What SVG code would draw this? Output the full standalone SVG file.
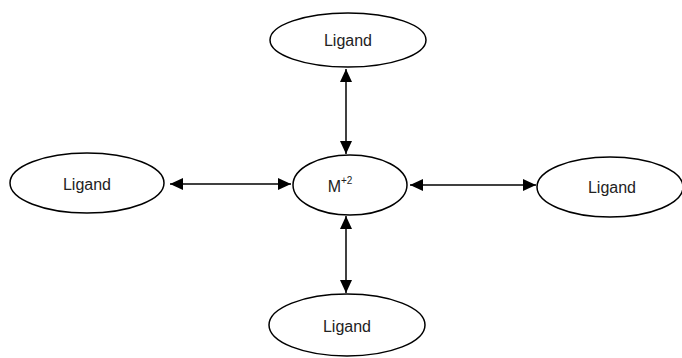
<svg xmlns="http://www.w3.org/2000/svg" width="682" height="358" viewBox="0 0 682 358">
<style>
.node ellipse{fill:#fff;stroke:#000;stroke-width:1.5}
.node text{font-family:"Liberation Sans",Arial,sans-serif;font-size:16px;fill:#222;text-anchor:middle}
.edge{stroke:#000;stroke-width:1.5;fill:none;marker-start:url(#ah);marker-end:url(#ah)}
</style>
<defs>
<marker id="ah" viewBox="0 0 13 12" refX="13" refY="6" markerWidth="13" markerHeight="12" markerUnits="userSpaceOnUse" orient="auto-start-reverse">
<path d="M0,0 L13,6 L0,12 Z" fill="#000"/>
</marker>
</defs>
<rect width="682" height="358" fill="#fff"/>
<g id="connectors">
<line class="edge" x1="170" y1="184" x2="291" y2="184"/>
<line class="edge" x1="410" y1="185" x2="536" y2="185"/>
<line class="edge" x1="346" y1="69" x2="346" y2="154"/>
<line class="edge" x1="346" y1="216" x2="346" y2="293"/>
</g>
<g id="ligand-top" class="node">
<ellipse cx="348" cy="40" rx="78" ry="27"/>
<text x="348" y="46">Ligand</text>
</g>
<g id="ligand-left" class="node">
<ellipse cx="87" cy="183" rx="77" ry="30"/>
<text x="87" y="190">Ligand</text>
</g>
<g id="metal" class="node">
<ellipse cx="350" cy="185" rx="57" ry="30"/>
<text x="340" y="192">M<tspan font-size="10" dy="-8">+2</tspan></text>
</g>
<g id="ligand-right" class="node">
<ellipse cx="610" cy="187" rx="73" ry="30"/>
<text x="612" y="193">Ligand</text>
</g>
<g id="ligand-bottom" class="node">
<ellipse cx="347" cy="325" rx="78" ry="31"/>
<text x="347" y="332">Ligand</text>
</g>
</svg>
